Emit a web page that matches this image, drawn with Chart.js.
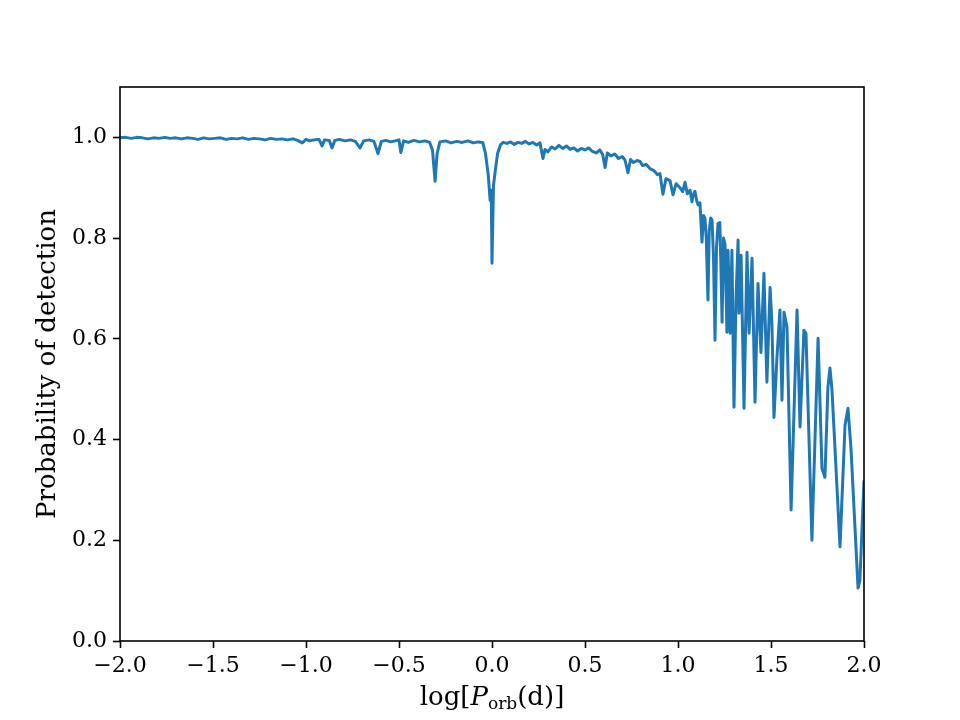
<!DOCTYPE html>
<html>
<head>
<meta charset="utf-8">
<script src="https://cdn.jsdelivr.net/npm/chart.js@4/dist/chart.umd.min.js"></script>
<style>
  html, body { margin: 0; padding: 0; background: #fff; }
  #chart { display: block; }
</style>
</head>
<body>
<canvas id="chart" width="960" height="720"></canvas>
<script>
"use strict";

// log10 of orbital period in days
const logPeriod = [
  -2.00, -1.97, -1.94, -1.91, -1.88, -1.85, -1.82, -1.79, -1.76, -1.73,
  -1.70, -1.67, -1.64, -1.61, -1.58, -1.55, -1.52, -1.49, -1.46, -1.43,
  -1.40, -1.37, -1.34, -1.31, -1.28, -1.25, -1.22, -1.19, -1.16, -1.13,
  -1.10, -1.07, -1.045, -1.02, -1.00, -0.98, -0.96, -0.93, -0.914, -0.90,
  -0.875, -0.86, -0.845, -0.82, -0.79, -0.76, -0.735, -0.71, -0.69, -0.66,
  -0.635, -0.613, -0.595, -0.57, -0.545, -0.52, -0.50, -0.49, -0.475, -0.45,
  -0.42, -0.39, -0.36, -0.335, -0.32, -0.306, -0.295, -0.28, -0.25, -0.22,
  -0.19, -0.16, -0.13, -0.10, -0.075, -0.05, -0.035, -0.02, -0.01, -0.004,
  0.0, 0.008, 0.018, 0.03, 0.045, 0.06, 0.08, 0.10, 0.12, 0.14,
  0.16, 0.18, 0.20, 0.22, 0.24, 0.258, 0.274, 0.285, 0.30, 0.32,
  0.34, 0.36, 0.38, 0.40, 0.42, 0.44, 0.46, 0.48, 0.50, 0.52,
  0.54, 0.56, 0.58, 0.595, 0.608, 0.62, 0.64, 0.66, 0.68, 0.70,
  0.715, 0.731, 0.745, 0.76, 0.78, 0.796, 0.81, 0.83, 0.849, 0.87,
  0.89, 0.903, 0.919, 0.935, 0.957, 0.973, 0.99, 1.011, 1.025, 1.038,
  1.05, 1.065, 1.075, 1.081, 1.091, 1.10, 1.108, 1.118, 1.129, 1.137,
  1.145, 1.152, 1.161, 1.168, 1.176, 1.183, 1.191, 1.199, 1.207, 1.215,
  1.225, 1.231, 1.237, 1.245, 1.253, 1.263, 1.269, 1.280, 1.290, 1.301,
  1.312, 1.323, 1.328, 1.339, 1.355, 1.371, 1.382, 1.398, 1.414, 1.430,
  1.446, 1.462, 1.478, 1.495, 1.505, 1.516, 1.532, 1.548, 1.559, 1.570,
  1.586, 1.608, 1.640, 1.656, 1.677, 1.688, 1.720, 1.753, 1.774, 1.790,
  1.806, 1.817, 1.828, 1.871, 1.898, 1.914, 1.930, 1.968, 1.978, 2.000
];

// probability of detection
const detectProb = [
  0.999, 1.000, 0.998, 1.000, 0.999, 0.997, 0.999, 0.998, 1.000, 0.998,
  0.999, 0.997, 0.999, 0.998, 0.996, 0.999, 0.997, 0.998, 0.999, 0.996,
  0.998, 0.997, 0.999, 0.996, 0.998, 0.997, 0.995, 0.998, 0.996, 0.997,
  0.995, 0.997, 0.994, 0.989, 0.996, 0.993, 0.995, 0.996, 0.983, 0.995,
  0.994, 0.979, 0.994, 0.996, 0.993, 0.995, 0.992, 0.979, 0.993, 0.995,
  0.992, 0.968, 0.992, 0.994, 0.991, 0.993, 0.995, 0.970, 0.993, 0.990,
  0.994, 0.991, 0.993, 0.990, 0.975, 0.913, 0.968, 0.991, 0.993, 0.989,
  0.992, 0.990, 0.993, 0.989, 0.991, 0.990, 0.968, 0.925, 0.875, 0.895,
  0.750, 0.905, 0.935, 0.968, 0.985, 0.990, 0.988, 0.991, 0.986, 0.990,
  0.988, 0.992, 0.987, 0.990, 0.985, 0.989, 0.958, 0.976, 0.971, 0.981,
  0.977, 0.984, 0.978, 0.983, 0.976, 0.979, 0.973, 0.978, 0.975, 0.979,
  0.972, 0.969, 0.975, 0.966, 0.940, 0.969, 0.963, 0.967, 0.958, 0.962,
  0.955, 0.930, 0.956, 0.950, 0.954, 0.952, 0.944, 0.946, 0.938, 0.934,
  0.926, 0.928, 0.887, 0.918, 0.914, 0.886, 0.908, 0.900, 0.892, 0.911,
  0.888, 0.895, 0.872, 0.885, 0.893, 0.875, 0.866, 0.870, 0.792, 0.845,
  0.839, 0.800, 0.677, 0.815, 0.840, 0.836, 0.760, 0.597, 0.780, 0.829,
  0.831, 0.740, 0.633, 0.800, 0.786, 0.613, 0.776, 0.611, 0.776, 0.464,
  0.680, 0.796, 0.651, 0.766, 0.462, 0.772, 0.611, 0.760, 0.474, 0.710,
  0.573, 0.730, 0.514, 0.702, 0.631, 0.444, 0.563, 0.657, 0.478, 0.653,
  0.623, 0.260, 0.657, 0.425, 0.617, 0.611, 0.200, 0.601, 0.343, 0.325,
  0.504, 0.542, 0.498, 0.187, 0.429, 0.462, 0.383, 0.105, 0.121, 0.319
];

const xTicks = [-2.0, -1.5, -1.0, -0.5, 0.0, 0.5, 1.0, 1.5, 2.0];
const yTicks = [0.0, 0.2, 0.4, 0.6, 0.8, 1.0];

const LINE_COLOR = "#1f77b4";
const SERIF = "'DejaVu Serif', 'Liberation Serif', serif";

function fmt(v) {
  const s = Math.abs(v).toFixed(1);
  return v < 0 ? "\u2212" + s : s;
}

// frame on all four sides, like matplotlib spines
const framePlugin = {
  id: "frame",
  afterDraw(chart) {
    const {ctx, chartArea} = chart;
    ctx.save();
    ctx.strokeStyle = "#000";
    ctx.lineWidth = 1.6;
    ctx.strokeRect(chartArea.left, chartArea.top,
                   chartArea.right - chartArea.left,
                   chartArea.bottom - chartArea.top);
    ctx.restore();
  }
};

// x axis label with italic P and subscript "orb"
const xLabelPlugin = {
  id: "xlabel",
  afterDraw(chart) {
    const {ctx, chartArea} = chart;
    const parts = [
      {t: "log[", font: "26px " + SERIF, dy: 0},
      {t: "P", font: "italic 26px " + SERIF, dy: 0},
      {t: "orb", font: "17px " + SERIF, dy: 4},
      {t: "(d)]", font: "26px " + SERIF, dy: 0}
    ];
    ctx.save();
    ctx.fillStyle = "#000";
    ctx.textBaseline = "alphabetic";
    ctx.textAlign = "left";
    let total = 0;
    for (const p of parts) {
      ctx.font = p.font;
      p.w = ctx.measureText(p.t).width;
      total += p.w;
    }
    let x = (chartArea.left + chartArea.right) / 2 - total / 2;
    const baseline = 705;
    for (const p of parts) {
      ctx.font = p.font;
      ctx.fillText(p.t, x, baseline + p.dy);
      x += p.w;
    }
    ctx.restore();
  }
};

const points = logPeriod.map((x, i) => ({x: x, y: detectProb[i]}));

new Chart(document.getElementById("chart"), {
  type: "line",
  data: {
    datasets: [{
      data: points,
      borderColor: LINE_COLOR,
      backgroundColor: LINE_COLOR,
      borderWidth: 3,
      borderJoinStyle: "round",
      pointRadius: 0,
      tension: 0,
      fill: false
    }]
  },
  options: {
    responsive: false,
    animation: false,
    layout: {padding: {top: 87, right: 96, left: 0, bottom: 0}},
    plugins: {
      legend: {display: false},
      tooltip: {enabled: false}
    },
    scales: {
      x: {
        type: "linear",
        min: -2,
        max: 2,
        afterBuildTicks(scale) {
          scale.ticks = xTicks.map(v => ({value: v}));
        },
        afterFit(scale) { scale.height = 79; },
        grid: {
          drawOnChartArea: false,
          drawTicks: true,
          tickLength: 7,
          tickWidth: 1.6,
          tickColor: "#000"
        },
        border: {display: false},
        ticks: {
          color: "#000",
          padding: 5,
          maxRotation: 0,
          font: {family: SERIF, size: 22},
          callback: v => fmt(v)
        },
        title: {display: false}
      },
      y: {
        type: "linear",
        min: 0,
        max: 1.1,
        afterBuildTicks(scale) {
          scale.ticks = yTicks.map(v => ({value: v}));
        },
        afterFit(scale) { scale.width = 120; },
        grid: {
          drawOnChartArea: false,
          drawTicks: true,
          tickLength: 7,
          tickWidth: 1.6,
          tickColor: "#000"
        },
        border: {display: false},
        ticks: {
          color: "#000",
          padding: 6,
          font: {family: SERIF, size: 22},
          callback: v => fmt(v)
        },
        title: {
          display: true,
          text: "Probability of detection",
          color: "#000",
          font: {family: SERIF, size: 26},
          padding: {top: 33, bottom: 0}
        }
      }
    }
  },
  plugins: [framePlugin, xLabelPlugin]
});
</script>
</body>
</html>
